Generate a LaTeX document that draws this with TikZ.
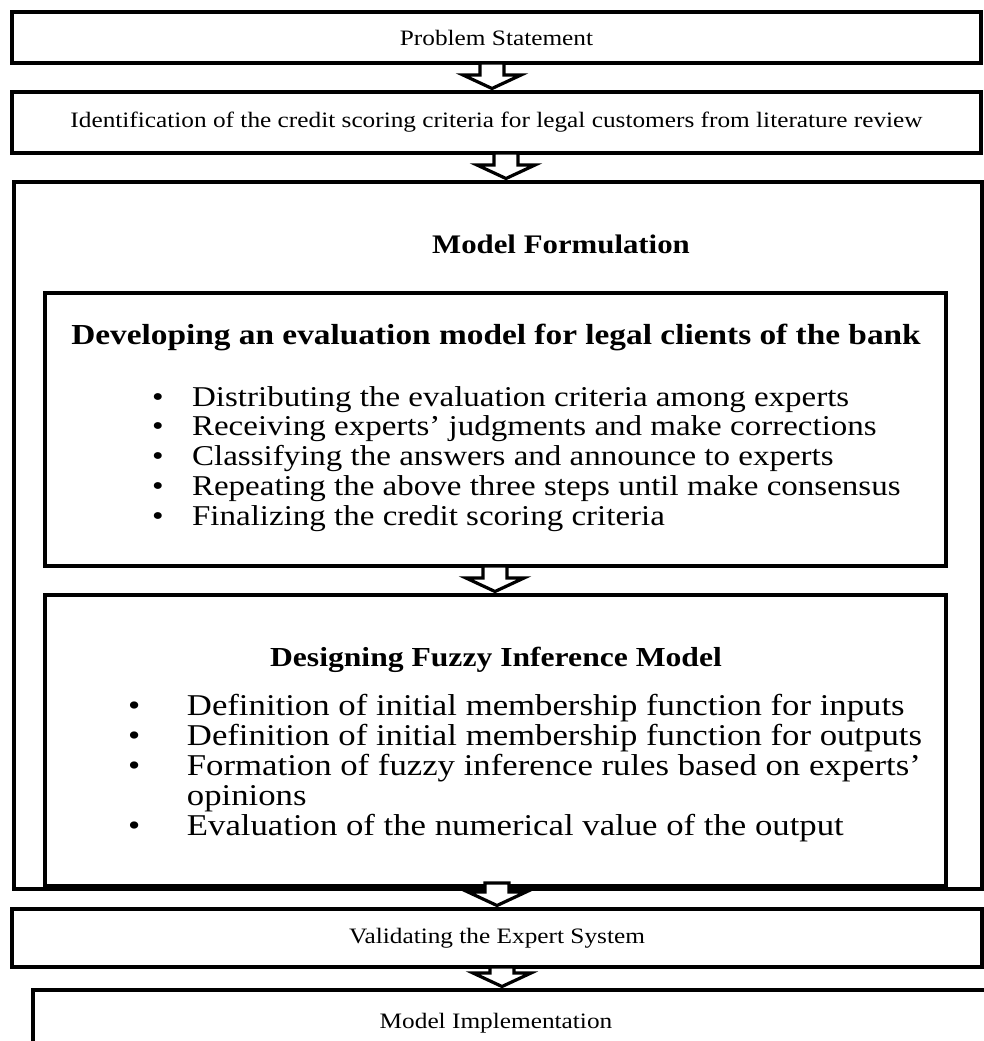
\documentclass[tikz,border=0pt]{standalone}
\usepackage{fontspec}
\usepackage{graphicx}
\setmainfont{Liberation Serif}
\usetikzlibrary{calc}
\newcommand\sx[1]{\scalebox{1.15}[1]{#1}}
\newcommand\smalltxt{\fontsize{22}{25}\selectfont}
\newcommand\listatxt{\fontsize{28.7}{29.75}\selectfont}
\newcommand\listbtxt{\fontsize{30.2}{30}\selectfont}
\newcommand\titletxt[1]{\fontsize{#1}{#1}\selectfont\bfseries}
\newcommand\blk[4]{%
  \draw[barrow] let \p1=($(#1)+(#3,0)$), \p2=(#2) in
  (\x1-12pt,\y1+#4) -- (\x1-12pt,\y2+15pt) -- (\x1-29pt,\y2+15pt) -- (\x1,\y2+1.5pt)
  -- (\x1+29pt,\y2+15pt) -- (\x1+12pt,\y2+15pt) -- (\x1+12pt,\y1+#4) -- cycle;}
\tikzset{
  box/.style={draw=black, line width=4pt, fill=none, inner sep=0pt, align=center},
  barrow/.style={draw=black, fill=white, line width=3.2pt, line join=miter},
  plain/.style={inner sep=0pt, outer sep=0pt}
}
\begin{document}
\begin{tikzpicture}[x=1pt,y=-1pt]
\useasboundingbox[fill=white] (0,0) rectangle (984,1041);
% boxes
\node[box, minimum width=969, minimum height=51] (b1) at (496.5,37.5) {\smalltxt\sx{Problem Statement}};
\node[box, minimum width=969, minimum height=61] (b2) at (496.5,122.5) {\smalltxt\sx{Identification of the credit scoring criteria for legal customers from literature review}};
\node[box, minimum width=968, minimum height=707] (outer) at (498,535.5) {};
\node[box, minimum width=901, minimum height=273] (in1) at (495.5,429.5) {};
\node[box, minimum width=901, minimum height=291] (in2) at (495.5,740.5) {};
\node[box, minimum width=970, minimum height=58] (val) at (497,938) {\smalltxt\sx{Validating the Expert System}};
\node[box, anchor=north west, minimum width=1000, minimum height=120] (mi) at (31,988) {};
% texts
\node[plain, anchor=base] (mf) at (561,253) {\titletxt{26.8}\sx{Model Formulation}};
\node[plain, anchor=base] (t1) at (496,344) {\titletxt{29}\sx{Developing an evaluation model for legal clients of the bank}};
\node[plain, anchor=base west] (l1) at (152,406) {\listatxt\sx{\begin{tabular}[t]{@{}l@{\hspace{24.8pt}}l@{}}
\textbullet & Distributing the evaluation criteria among experts\\
\textbullet & Receiving experts’ judgments and make corrections\\
\textbullet & Classifying the answers and announce to experts\\
\textbullet & Repeating the above three steps until make consensus\\
\textbullet & Finalizing the credit scoring criteria
\end{tabular}}};
\node[plain, anchor=base] (t2) at (496,666) {\titletxt{27.5}\sx{Designing Fuzzy Inference Model}};
\node[plain, anchor=base west] (l2) at (128,715) {\listbtxt\sx{\begin{tabular}[t]{@{}l@{\hspace{40.7pt}}l@{}}
\textbullet & Definition of initial membership function for inputs\\
\textbullet & Definition of initial membership function for outputs\\
\textbullet & Formation of fuzzy inference rules based on experts’\\
 & opinions\\
\textbullet & Evaluation of the numerical value of the output
\end{tabular}}};
\node[plain, anchor=base] (mit) at (496,1028) {\smalltxt\sx{Model Implementation}};
% block arrows
\blk{b1.south}{b2.north}{-4.5}{2pt}
\blk{b2.south}{outer.north}{9.5}{2pt}
\blk{in1.south}{in2.north}{-0.5}{2pt}
\blk{outer.south}{val.north}{-1}{8pt}
\blk{val.south}{mi.north}{5}{2pt}
\end{tikzpicture}
\end{document}
